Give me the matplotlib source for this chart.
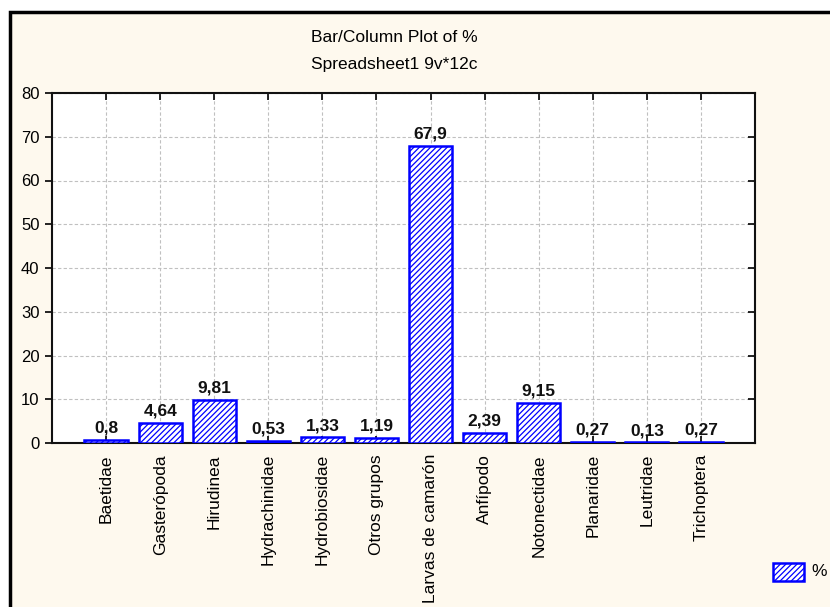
import matplotlib
matplotlib.use("Agg")
import matplotlib.pyplot as plt
from matplotlib.patches import Rectangle
from matplotlib.lines import TICKLEFT

plt.rcParams['font.family'] = ['Liberation Sans', 'DejaVu Sans']
plt.rcParams['hatch.linewidth'] = 0.9

categories = ["Baetidae", "Gasterópoda", "Hirudinea", "Hydrachinidae", "Hydrobiosidae",
              "Otros grupos", "Larvas de camarón", "Anfípodo", "Notonectidae",
              "Planaridae", "Leutridae", "Trichoptera"]
values = [0.8, 4.64, 9.81, 0.53, 1.33, 1.19, 67.9, 2.39, 9.15, 0.27, 0.13, 0.27]
yticks = [0, 10, 20, 30, 40, 50, 60, 70, 80]
title_lines = ["Bar/Column Plot of %", "Spreadsheet1 9v*12c"]
series_name = "%"

W, H = 830, 607
bg = "#fef9ee"
blue = "#0000ff"

fig = plt.figure(figsize=(W / 100, H / 100), dpi=100)
fig.patch.set_facecolor("white")

# cream panel with heavy black frame on top and left
panel = Rectangle((10 / W, -0.05), 1.0, (H - 12) / H + 0.05,
                  transform=fig.transFigure, facecolor=bg,
                  edgecolor="black", linewidth=2.5, zorder=-10)
fig.patches.append(panel)

ax = fig.add_axes([52 / W, 1 - 443 / H, (755 - 52) / W, (443 - 93) / H])
ax.set_zorder(5)
ax.set_facecolor("white")

x = list(range(1, len(categories) + 1))
ax.bar(x, values, width=0.8, facecolor="white", edgecolor=blue,
       linewidth=1.8, hatch="//////", zorder=3)

for xi, v in zip(x, values):
    ax.annotate(f"{v:g}".replace(".", ","), (xi, v), xytext=(0, 3),
                textcoords="offset points", ha="center", va="bottom",
                fontsize=12.5, fontweight="bold", color="#111111", zorder=4)

ax.set_xlim(0, len(categories) + 1)
ax.set_ylim(yticks[0], yticks[-1])
ax.set_yticks(yticks)
ax.set_xticks(x)
ax.set_xticklabels(categories, rotation=90, fontsize=12.5)
ax.tick_params(axis="y", labelsize=12, direction="out", length=5, width=1.2,
               right=True, colors="black", pad=4)
ax.tick_params(axis="x", direction="in", length=5, width=1.2, top=True, pad=8)

ax.grid(True, color="#c0c0c0", linestyle=(0, (3, 2)), linewidth=0.8, zorder=0)
ax.set_axisbelow(True)
for s in ax.spines.values():
    s.set_linewidth(1.5)
    s.set_color("#111111")

# right-side ticks point inward
for t in ax.yaxis.get_major_ticks():
    t.tick2line.set_marker(TICKLEFT)

fig.text(394 / W, 1 - 38 / H, title_lines[0], ha="center", va="center", fontsize=12.5)
fig.text(394 / W, 1 - 65 / H, title_lines[1], ha="center", va="center", fontsize=12.5)

# legend entry
fig.patches.append(Rectangle((773 / W, 1 - 581 / H), 31 / W, 18 / H,
                             transform=fig.transFigure, facecolor="white",
                             edgecolor=blue, linewidth=1.8, hatch="//////", zorder=5))
fig.text(811 / W, 1 - 572 / H, series_name, ha="left", va="center", fontsize=12.5)

fig.savefig("out.png", dpi=100, facecolor=fig.get_facecolor())
